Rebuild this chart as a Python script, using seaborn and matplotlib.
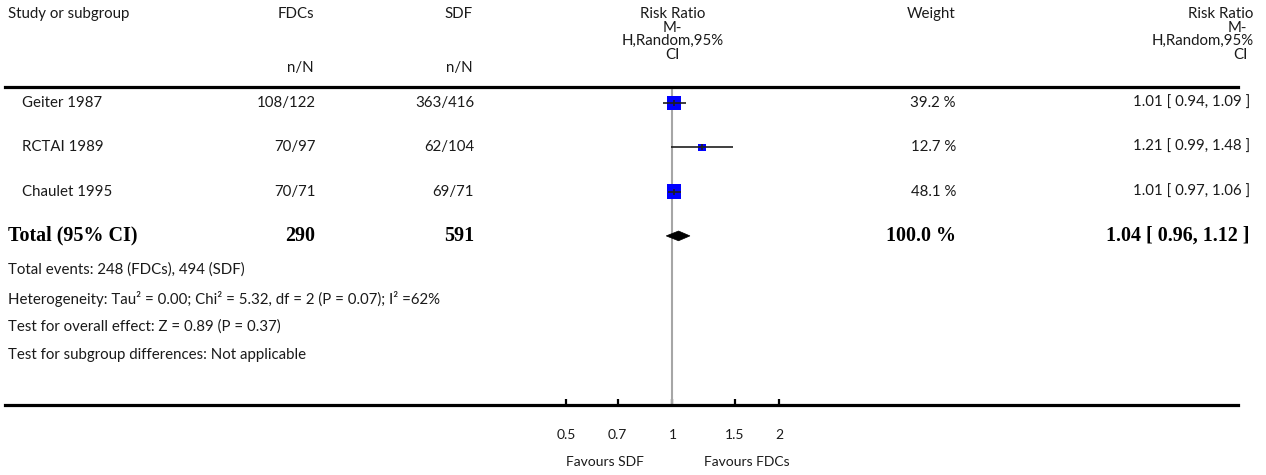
import numpy as np
import pandas as pd
import matplotlib
matplotlib.use("Agg")
import matplotlib.pyplot as plt
import matplotlib.transforms as mtransforms
from matplotlib.patches import Polygon
import seaborn as sns

# ---- data -------------------------------------------------------------
studies = ["Geiter 1987", "RCTAI 1989", "Chaulet 1995"]
fdc_events = [108, 70, 70]
fdc_totals = [122, 97, 71]
sdf_events = [363, 62, 69]
sdf_totals = [416, 104, 71]
weights = [39.2, 12.7, 48.1]
rr = [1.01, 1.21, 1.01]
rr_lo = [0.94, 0.99, 0.97]
rr_hi = [1.09, 1.48, 1.06]

total_fdc_n = 290
total_sdf_n = 591
total_fdc_events = 248
total_sdf_events = 494
total_weight = 100.0
pooled_rr, pooled_lo, pooled_hi = 1.04, 0.96, 1.12

tick_values = [0.5, 0.7, 1, 1.5, 2]
tick_labels = ["0.5", "0.7", "1", "1.5", "2"]

footer_lines = [
    f"Total events: {total_fdc_events} (FDCs), {total_sdf_events} (SDF)",
    "Heterogeneity: Tau² = 0.00; Chi² = 5.32, df = 2 (P = 0.07); I² =62%",
    "Test for overall effect: Z = 0.89 (P = 0.37)",
    "Test for subgroup differences: Not applicable",
]

# ---- figure setup -----------------------------------------------------
W, H = 1266, 475
sns.set_theme(style="white")
plt.rcParams["font.family"] = ["Lato", "DejaVu Sans"]

fig = plt.figure(figsize=(W / 100, H / 100), dpi=100)
TXT = "#1a1a1a"
FS = 10.8
BOLD = dict(family=["Liberation Serif"], fontweight="bold", fontsize=14.4, color="black")


def fx(px):
    return px / W


def fy(py):
    return 1 - py / H


# forest-plot axes spans the full table width; its spines form the rules
ax_left, ax_right, ax_top, ax_bottom = 5, 1238, 87, 405
ax = fig.add_axes([fx(ax_left), fy(ax_bottom), (ax_right - ax_left) / W,
                   (ax_bottom - ax_top) / H])
ax.set_xscale("log")
null_px, px_per_decade = 672.5, 354.0
ax.set_xlim(10 ** ((ax_left - null_px) / px_per_decade),
            10 ** ((ax_right - null_px) / px_per_decade))
row_top_px, row_step = 103.0, 44.3
ax.set_ylim((ax_bottom - row_top_px) / row_step, (ax_top - row_top_px) / row_step)

rows = np.arange(len(studies))
df = pd.DataFrame({"study": studies, "rr": rr, "lo": rr_lo, "hi": rr_hi,
                   "weight": weights, "row": rows})

# null line
ax.axvline(1, color="#a6a6a6", lw=1.5, zorder=1)

# study squares, area proportional to weight
k_area = 2.29
sns.scatterplot(data=df, x="rr", y="row", size="weight",
                sizes=(k_area * min(weights), k_area * max(weights)),
                marker="s", color="#0000ff", linewidth=0, legend=False,
                ax=ax, zorder=3)
# confidence intervals
ax.hlines(df["row"], df["lo"], df["hi"], color="#1f1f1f", lw=1.2, zorder=4)
ax.scatter(df["rr"], df["row"], marker="|", s=22, color="#1f1f1f", lw=1.2, zorder=5)

# pooled diamond
total_row = len(studies)
dh = 0.11
ax.add_patch(Polygon([(pooled_lo, total_row), (pooled_rr, total_row - dh),
                      (pooled_hi, total_row), (pooled_rr, total_row + dh)],
                     closed=True, facecolor="black", edgecolor="black", lw=0.5,
                     zorder=5))

# axis styling
for side in ["left", "right"]:
    ax.spines[side].set_visible(False)
for side in ["top", "bottom"]:
    ax.spines[side].set_color("black")
    ax.spines[side].set_linewidth(2.3)
ax.set_yticks([])
ax.xaxis.set_minor_locator(matplotlib.ticker.NullLocator())
ax.set_xticks(tick_values)
ax.set_xticklabels(tick_labels)
ax.tick_params(axis="x", direction="in", length=4.5, width=1.6, color="black",
               pad=17, labelsize=10, labelcolor=TXT, bottom=True, top=False)
ax.set_xlabel("")
ax.set_ylabel("")
ax.patch.set_alpha(0)

# ---- table text -------------------------------------------------------
blend = mtransforms.blended_transform_factory(fig.transFigure, ax.transData)

# headers
fig.text(fx(8), fy(14), "Study or subgroup", ha="left", va="center", fontsize=FS, color=TXT)
fig.text(fx(314), fy(14), "FDCs", ha="right", va="center", fontsize=FS, color=TXT)
fig.text(fx(473), fy(14), "SDF", ha="right", va="center", fontsize=FS, color=TXT)
fig.text(fx(314), fy(68), "n/N", ha="right", va="center", fontsize=FS, color=TXT)
fig.text(fx(473), fy(68), "n/N", ha="right", va="center", fontsize=FS, color=TXT)
fig.text(fx(956), fy(14), "Weight", ha="right", va="center", fontsize=FS, color=TXT)
rr_head = ["Risk Ratio", "M-", "H,Random,95%", "CI"]
head_y = [14, 28, 41, 55]
right_x = [1253, 1247, 1254, 1248]
for line, y, xr in zip(rr_head, head_y, right_x):
    fig.text(fx(null_px), fy(y), line, ha="center", va="center", fontsize=FS, color=TXT)
    fig.text(fx(xr), fy(y), line, ha="right", va="center", fontsize=FS, color=TXT)

# study rows
for i, s in enumerate(studies):
    ax.text(fx(22), i, s, transform=blend, ha="left", va="center", fontsize=FS, color=TXT)
    ax.text(fx(316), i, f"{fdc_events[i]}/{fdc_totals[i]}", transform=blend,
            ha="right", va="center", fontsize=FS, color=TXT)
    ax.text(fx(474), i, f"{sdf_events[i]}/{sdf_totals[i]}", transform=blend,
            ha="right", va="center", fontsize=FS, color=TXT)
    ax.text(fx(956), i, f"{weights[i]:.1f} %", transform=blend,
            ha="right", va="center", fontsize=FS, color=TXT)
    ax.text(fx(1250), i, f"{rr[i]:.2f} [ {rr_lo[i]:.2f}, {rr_hi[i]:.2f} ]",
            transform=blend, ha="right", va="center", fontsize=FS, color=TXT)

# total row
ax.text(fx(8), total_row, "Total (95% CI)", transform=blend, ha="left", va="center", **BOLD)
ax.text(fx(315), total_row, f"{total_fdc_n}", transform=blend, ha="right", va="center", **BOLD)
ax.text(fx(474), total_row, f"{total_sdf_n}", transform=blend, ha="right", va="center", **BOLD)
ax.text(fx(956), total_row, f"{total_weight:.1f} %", transform=blend, ha="right", va="center", **BOLD)
ax.text(fx(1250), total_row, f"{pooled_rr:.2f} [ {pooled_lo:.2f}, {pooled_hi:.2f} ]",
        transform=blend, ha="right", va="center", **BOLD)

# footer notes
for line, y in zip(footer_lines, [270, 299, 327, 355]):
    fig.text(fx(8), fy(y), line, ha="left", va="center", fontsize=FS, color=TXT)

# favour labels
fig.text(fx(605), fy(462), "Favours SDF", ha="center", va="center", fontsize=10, color=TXT)
fig.text(fx(747), fy(462), "Favours FDCs", ha="center", va="center", fontsize=10, color=TXT)

fig.savefig("out.png", dpi=100, facecolor="white")
